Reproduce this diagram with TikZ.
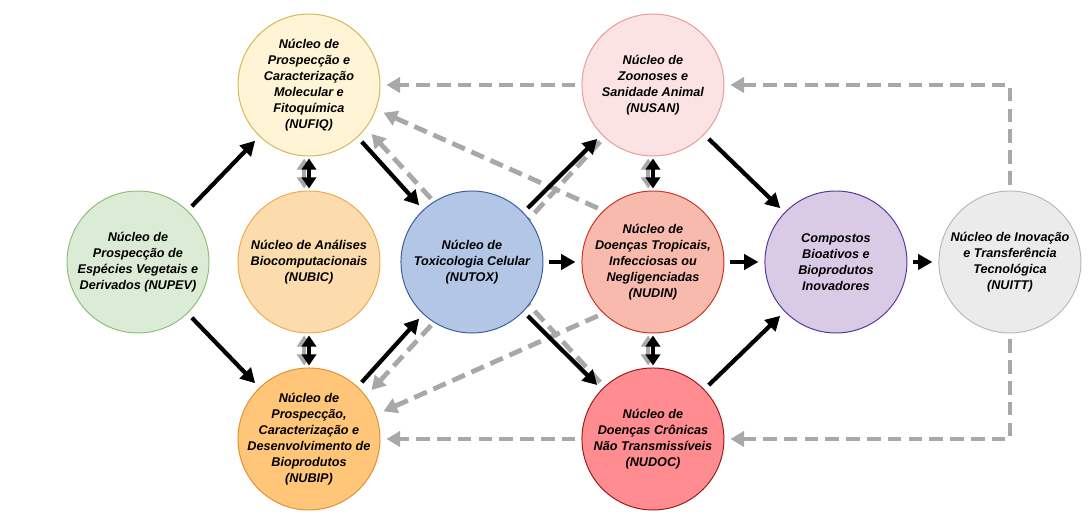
\documentclass[tikz,border=0pt]{standalone}
\usepackage{fontspec}
\setmainfont{Liberation Sans}
\usetikzlibrary{arrows.meta}
\usetikzlibrary{positioning}
\usetikzlibrary{backgrounds}
\definecolor{pevfill}{HTML}{DCEBD5}
\definecolor{pevdraw}{HTML}{8CBF74}
\definecolor{fiqfill}{HTML}{FFF4D6}
\definecolor{fiqdraw}{HTML}{D6B656}
\definecolor{bicfill}{HTML}{FCDBAC}
\definecolor{bicdraw}{HTML}{F2A94E}
\definecolor{bipfill}{HTML}{FFC679}
\definecolor{bipdraw}{HTML}{E0922F}
\definecolor{toxfill}{HTML}{B3C6E6}
\definecolor{toxdraw}{HTML}{3A5FA0}
\definecolor{sanfill}{HTML}{FCE3E3}
\definecolor{sandraw}{HTML}{E99A9A}
\definecolor{dinfill}{HTML}{F9BAAE}
\definecolor{dindraw}{HTML}{CC3322}
\definecolor{docfill}{HTML}{FF8C90}
\definecolor{docdraw}{HTML}{9A1A1A}
\definecolor{biofill}{HTML}{D9CBE6}
\definecolor{biodraw}{HTML}{56389A}
\definecolor{ittfill}{HTML}{EBEBEB}
\definecolor{ittdraw}{HTML}{B9B9B9}
\definecolor{dashgray}{HTML}{A8A8A8}

\begin{document}
\begin{tikzpicture}[node distance=0.85cm and 0.7cm,
  nucleo/.style={circle, draw, line width=0.7pt, minimum size=3.55cm, inner sep=0pt},
  rotulo/.style={font=\fontsize{9}{11.3}\selectfont\bfseries\itshape, align=center, text=black},
  flow/.style={-{Triangle[length=3.6mm,width=3.8mm]}, line width=3pt, shorten <=1.5mm, shorten >=1.5mm},
  feedback/.style={-{Triangle[length=3.4mm,width=3.8mm]}, line width=3.4pt, dashgray, dash pattern=on 3.4mm off 1.8mm, shorten <=1.5mm, shorten >=1.5mm},
  twin/.style={{Triangle[length=2.8mm,width=3.6mm]}-{Triangle[length=2.8mm,width=3.6mm]}, line width=3pt, shorten <=0.5mm, shorten >=0.5mm},
  twin shadow/.style={twin, dashgray}]
\useasboundingbox (-3.45,-6.475) rectangle (23.775,6.55);
			% Nodes
			\node[nucleo, fill=pevfill, draw=pevdraw, label={[rotulo]center:{Núcleo de\\Prospecção de\\Espécies Vegetais e\\Derivados (NUPEV)}}] (nupev) at (0,0) {};
			\node[nucleo, fill=bicfill, draw=bicdraw, label={[rotulo]center:{Núcleo de Análises\\Biocomputacionais\\(NUBIC)}}] (nubic) [right=0.7cm of nupev] {};
			\node[nucleo, fill=fiqfill, draw=fiqdraw, label={[rotulo]center:{Núcleo de\\Prospecção e\\Caracterização\\Molecular e\\Fitoquímica\\(NUFIQ)}}] (nufiq) [above=of nubic] {};
			\node[nucleo, fill=bipfill, draw=bipdraw, label={[rotulo]center:{Núcleo de\\Prospecção,\\Caracterização e\\Desenvolvimento de\\Bioprodutos\\(NUBIP)}}] (nubip) [below=of nubic] {};
			\node[nucleo, fill=toxfill, draw=toxdraw, label={[rotulo]center:{Núcleo de\\Toxicologia Celular\\(NUTOX)}}] (nutox) [right=0.5cm of nubic] {};
			\node[nucleo, fill=dinfill, draw=dindraw, label={[rotulo]center:{Núcleo de\\Doenças Tropicais,\\Infecciosas ou\\Negligenciadas\\(NUDIN)}}] (nudin) [right=0.95cm of nutox] {};
			\node[nucleo, fill=sanfill, draw=sandraw, label={[rotulo]center:{Núcleo de\\Zoonoses e\\Sanidade Animal\\(NUSAN)}}] (nusan) [above=of nudin] {};
			\node[nucleo, fill=docfill, draw=docdraw, label={[rotulo]center:{Núcleo de\\Doenças Crônicas\\Não Transmissíveis\\(NUDOC)}}] (nudoc) [below=of nudin] {};
			\node[nucleo, fill=biofill, draw=biodraw, label={[rotulo]center:{Compostos\\Bioativos e\\Bioprodutos\\Inovadores}}] (bio) [right=1cm of nudin] {};
			\node[nucleo, fill=ittfill, draw=ittdraw, label={[rotulo]center:{Núcleo de Inovação\\e Transferência\\Tecnológica\\(NUITT)}}] (nuitt) [right=0.775cm of bio] {};
			
			% dashed returns, behind the circles
			\begin{scope}[on background layer]
			\draw[feedback] (nuitt) |- (nusan);
			\draw[feedback] (nuitt) |- (nudoc);
			\draw[feedback] (nusan) -- (nufiq);
			\draw[feedback] (nudoc) -- (nubip);
			\draw[feedback, shorten >=2mm] (nudin.134) -- (nufiq.-20);
			\draw[feedback, shorten >=2mm] (nudin.226) -- (nubip.20);
			\draw[feedback, shorten >=2mm] (nudoc.133) -- (nufiq.-37);
			\draw[feedback, shorten >=2mm] (nusan.227) -- (nubip.37);
			\end{scope}
			
			\path
			(nupev.46) edge[flow] (nufiq.226)
			(nupev.-46) edge[flow] (nubip.134)
			
			(nufiq.-47) edge[flow] (nutox.133)
			(nubip.47) edge[flow] (nutox.227)
			
			(nutox.44) edge[flow] (nusan.224)
			(nutox) edge[flow] (nudin)
			(nutox.-44) edge[flow] (nudoc.136)
			
			(nusan.-44) edge[flow] (bio.136)
			(nudin) edge[flow] (bio)
			(nudoc.44) edge[flow] (bio.224)
			
			(bio) edge[flow] (nuitt);
			
			% two-way links
			\draw[twin shadow] ([xshift=-1.2mm]nufiq.south) -- ([xshift=-1.2mm]nubic.north);
			\draw[twin] (nufiq.south) -- (nubic.north);
			\draw[twin shadow] ([xshift=-1.2mm]nubic.south) -- ([xshift=-1.2mm]nubip.north);
			\draw[twin] (nubic.south) -- (nubip.north);
			\draw[twin shadow] ([xshift=-1.2mm]nusan.south) -- ([xshift=-1.2mm]nudin.north);
			\draw[twin] (nusan.south) -- (nudin.north);
			\draw[twin shadow] ([xshift=-1.2mm]nudin.south) -- ([xshift=-1.2mm]nudoc.north);
			\draw[twin] (nudin.south) -- (nudoc.north);
			
		\end{tikzpicture}
\end{document}
